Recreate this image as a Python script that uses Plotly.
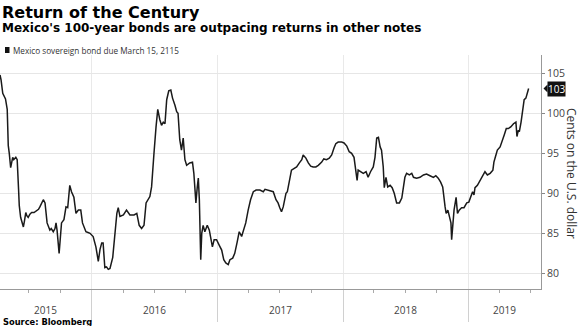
import plotly.graph_objects as go
import pandas as pd

# ---------------- data ----------------
dates = [
    "2015-04-09","2015-04-12","2015-04-17","2015-04-20","2015-04-25","2015-04-30","2015-05-03","2015-05-06",
    "2015-05-10","2015-05-16","2015-05-19","2015-05-25","2015-05-29","2015-06-02","2015-06-04","2015-06-08",
    "2015-06-12","2015-06-16","2015-06-19","2015-06-23","2015-06-26","2015-06-30","2015-07-05","2015-07-10",
    "2015-07-17","2015-07-25","2015-07-30","2015-08-03","2015-08-09","2015-08-13","2015-08-18","2015-08-21",
    "2015-08-24","2015-09-01","2015-09-05","2015-09-11","2015-09-16","2015-09-19","2015-09-22","2015-09-28",
    "2015-10-02","2015-10-05","2015-10-12","2015-10-18","2015-10-23","2015-10-29","2015-11-03","2015-11-10",
    "2015-11-13","2015-11-16","2015-11-23","2015-11-30","2015-12-05","2015-12-11","2015-12-15","2015-12-21",
    "2015-12-27",
    "2016-01-05","2016-01-13","2016-01-20","2016-01-25","2016-01-30","2016-02-03","2016-02-08","2016-02-13",
    "2016-02-18","2016-02-23","2016-03-02","2016-03-06","2016-03-10","2016-03-14","2016-03-18","2016-03-23",
    "2016-04-02","2016-04-11","2016-04-21","2016-05-03","2016-05-11","2016-05-18","2016-05-25","2016-06-01",
    "2016-06-07","2016-06-13","2016-06-18","2016-06-23","2016-06-26","2016-06-30","2016-07-06","2016-07-11",
    "2016-07-17","2016-07-22","2016-07-27","2016-08-01","2016-08-06","2016-08-12","2016-08-18","2016-08-23",
    "2016-08-30","2016-09-04","2016-09-08","2016-09-13","2016-09-18","2016-09-23","2016-09-28","2016-10-03",
    "2016-10-12","2016-10-20","2016-10-24","2016-10-30","2016-11-03","2016-11-06","2016-11-09","2016-11-13",
    "2016-11-16","2016-11-20","2016-11-25","2016-12-02","2016-12-08","2016-12-12","2016-12-17","2016-12-22",
    "2016-12-29",
    "2017-01-06","2017-01-13","2017-01-19","2017-01-25","2017-02-01","2017-02-06","2017-02-14","2017-02-20",
    "2017-02-27","2017-03-05","2017-03-12","2017-03-17","2017-03-24","2017-03-31","2017-04-07","2017-04-15",
    "2017-04-23","2017-05-04","2017-05-14","2017-05-19","2017-05-25","2017-06-02","2017-06-12","2017-06-20",
    "2017-06-26","2017-07-01","2017-07-06","2017-07-11","2017-07-19","2017-07-23","2017-07-28","2017-08-04",
    "2017-08-11","2017-08-19","2017-08-27","2017-09-03","2017-09-07","2017-09-15","2017-09-22","2017-09-29",
    "2017-10-06","2017-10-14","2017-10-21","2017-10-31","2017-11-06","2017-11-14","2017-11-22","2017-11-29",
    "2017-12-06","2017-12-11","2017-12-18","2017-12-28",
    "2018-01-04","2018-01-12","2018-01-19","2018-01-26","2018-02-02","2018-02-08","2018-02-11","2018-02-14",
    "2018-02-24","2018-03-01","2018-03-09","2018-03-15","2018-03-22","2018-03-30","2018-04-04","2018-04-09",
    "2018-04-14","2018-04-19","2018-04-23","2018-04-28","2018-05-01","2018-05-06","2018-05-11","2018-05-18",
    "2018-05-24","2018-05-30","2018-06-06","2018-06-14","2018-06-21","2018-06-25","2018-06-30","2018-07-05",
    "2018-07-13","2018-07-20","2018-07-25","2018-08-03","2018-08-13","2018-08-23","2018-09-01","2018-09-11",
    "2018-09-21","2018-09-28","2018-10-05","2018-10-12","2018-10-18","2018-10-25","2018-10-28","2018-11-02",
    "2018-11-06","2018-11-11","2018-11-13","2018-11-16","2018-11-20","2018-11-26","2018-11-30","2018-12-05",
    "2018-12-12","2018-12-19","2018-12-27",
    "2019-01-02","2019-01-08","2019-01-13","2019-01-17","2019-01-20","2019-01-27","2019-02-04","2019-02-11",
    "2019-02-18","2019-02-25","2019-03-05","2019-03-13","2019-03-16","2019-03-20","2019-03-26","2019-04-03",
    "2019-04-09","2019-04-15","2019-04-21","2019-04-27","2019-05-04","2019-05-12","2019-05-19","2019-05-22",
    "2019-05-26","2019-05-29","2019-06-03","2019-06-08","2019-06-12","2019-06-17","2019-06-21","2019-06-25",
]
prices = [
    104.8,104.2,102.5,102.2,101.8,100.5,96.0,95.0,
    93.2,94.5,94.2,94.5,94.2,90.5,88.5,87.0,
    86.3,85.8,86.5,87.6,87.2,87.0,87.4,87.6,
    87.6,87.9,88.0,88.3,88.8,89.2,88.8,87.5,
    86.3,85.4,85.6,85.2,85.6,86.3,85.4,82.5,
    84.5,86.3,86.7,88.3,88.2,91.0,90.2,89.5,
    88.5,87.5,87.9,87.9,86.3,85.5,85.2,85.1,
    85.0,
    84.6,83.3,81.5,83.0,83.8,83.8,80.7,80.8,
    80.5,80.6,82.0,83.9,85.8,87.5,88.2,87.1,
    87.3,87.9,87.3,87.3,87.5,86.0,85.6,86.0,
    88.8,89.2,89.6,90.8,92.9,95.0,98.3,100.5,
    99.2,98.5,98.9,98.7,101.7,102.8,102.9,101.9,
    101.0,100.2,100.0,96.7,95.4,96.9,94.2,93.5,
    93.8,93.9,92.5,88.8,90.8,91.9,89.2,81.7,
    85.0,86.0,85.2,86.0,85.4,84.6,83.3,84.2,
    84.2,
    83.5,82.9,81.7,81.3,81.1,81.7,81.9,82.5,
    83.9,85.2,84.6,85.2,86.3,87.9,89.2,90.2,
    90.4,90.4,90.2,90.5,90.4,90.3,90.2,89.2,
    88.8,88.2,87.7,88.3,90.0,90.2,91.4,92.9,
    93.1,93.3,93.8,94.2,94.8,94.4,93.8,93.4,
    93.3,93.3,93.5,93.9,94.3,94.2,94.4,94.8,
    95.7,96.2,96.4,96.4,
    96.3,95.9,95.2,95.0,94.5,92.9,91.6,92.9,
    92.7,92.5,92.7,92.0,92.7,93.3,94.5,96.9,
    97.0,95.8,95.4,93.3,90.7,92.0,90.8,91.0,
    90.7,90.0,88.8,88.8,89.4,90.7,92.0,92.5,
    92.3,92.5,92.0,91.9,92.0,92.3,92.4,92.2,
    92.0,92.2,91.9,91.4,90.8,88.3,87.5,87.9,
    87.3,86.3,84.2,86.0,87.9,89.5,87.5,87.9,
    88.2,88.2,88.8,
    88.9,89.5,90.2,89.8,90.7,91.0,91.6,92.0,
    92.7,92.3,92.5,92.9,93.9,94.5,95.4,95.8,
    96.7,97.3,98.1,98.1,98.3,98.7,98.9,97.1,
    97.9,97.7,98.9,100.4,101.7,101.9,102.5,103.1,
]
year_bounds = ["2016-01-01", "2017-01-01", "2018-01-01", "2019-01-01"]
year_labels = ["2015", "2016", "2017", "2018", "2019"]
y_ticks = [80, 85, 90, 95, 100, 105]

title = "Return of the Century"
subtitle = "Mexico's 100-year bonds are outpacing returns in other notes"
legend_text = "Mexico sovereign bond due March 15, 2115"
axis_title = "Cents on the U.S. dollar"
source = "Source: Bloomberg"

# ---------------- layout geometry ----------------
W, H = 580, 326
ML, MR, MT, MB = 0, 39, 55, 37
PW, PH = W - ML - MR, H - MT - MB
x_range = ["2015-04-09", "2019-07-31"]
y_range = [78.04, 107.29]


def py(ypix):
    return (H - MB - ypix) / PH


def px(xpix):
    return (xpix - ML) / PW


fig = go.Figure()
fig.add_trace(go.Scatter(x=dates, y=prices, mode="lines",
                         line=dict(color="#1a1a1a", width=1.5),
                         showlegend=False, hoverinfo="skip"))

# year label positions: middle of the visible part of each year
edges = [pd.Timestamp(x_range[0])] + [pd.Timestamp(b) for b in year_bounds] + [pd.Timestamp(x_range[1])]
annotations = []
for i, lab in enumerate(year_labels):
    mid = edges[i] + (edges[i + 1] - edges[i]) / 2
    annotations.append(dict(x=mid.strftime("%Y-%m-%d %H:%M"), xref="x", y=py(309.5), yref="paper",
                            text=lab, showarrow=False, xanchor="center", yanchor="middle",
                            font=dict(family="Open Sans", size=10, color="#444")))

annotations += [
    dict(x=0, xref="paper", y=py(12.5), yref="paper", text="<b>" + title + "</b>", showarrow=False,
         xanchor="left", yanchor="middle", font=dict(family="DejaVu Sans", size=16, color="#000")),
    dict(x=0, xref="paper", y=py(28.5), yref="paper", text="<b>" + subtitle + "</b>", showarrow=False,
         xanchor="left", yanchor="middle", font=dict(family="DejaVu Sans", size=12, color="#000")),
    dict(x=px(11), xref="paper", y=py(50), yref="paper", text=legend_text, showarrow=False,
         xanchor="left", yanchor="middle", font=dict(family="Open Sans", size=8.2, color="#333")),
    dict(x=px(1), xref="paper", y=py(321.5), yref="paper", text="<b>" + source + "</b>", showarrow=False,
         xanchor="left", yanchor="middle", font=dict(family="DejaVu Sans", size=8.3, color="#000")),
    dict(x=px(572), xref="paper", y=py(173), yref="paper", text=axis_title, showarrow=False,
         textangle=90, xanchor="center", yanchor="middle",
         font=dict(family="Open Sans", size=12, color="#333")),
    dict(x=px(547), xref="paper", y=prices[-1], yref="y", text=f"{round(prices[-1])}", showarrow=False,
         xanchor="left", yanchor="middle", bgcolor="#111", borderpad=0,
         font=dict(family="Open Sans", size=10, color="#fff")),
]

shapes = [
    dict(type="rect", xref="paper", yref="paper", x0=px(5), x1=px(9.5), y0=py(53), y1=py(47),
         fillcolor="#111", line=dict(width=0)),
    dict(type="path", xref="paper", yref="paper",
         path=f"M {px(543.5)} {py(88.6)} L {px(547.5)} {py(84.6)} L {px(547.5)} {py(92.6)} Z",
         fillcolor="#111", line=dict(width=0)),
]

fig.update_layout(
    width=W, height=H, margin=dict(l=ML, r=MR, t=MT, b=MB, pad=0),
    paper_bgcolor="white", plot_bgcolor="white",
    annotations=annotations, shapes=shapes,
    xaxis=dict(type="date", range=x_range, tickvals=year_bounds, ticktext=[""] * len(year_bounds),
               showgrid=True, gridcolor="#e9e9e9", gridwidth=1,
               ticks="outside", ticklen=32, tickcolor="#d0d0d0", tickwidth=1,
               showline=True, linecolor="#999", linewidth=1, zeroline=False,
               minor=dict(dtick="M3", tick0="2015-01-01", ticks="outside", ticklen=3,
                          tickcolor="#aaa", showgrid=False)),
    yaxis=dict(range=y_range, side="right", tickvals=y_ticks,
               showgrid=True, gridcolor="#e6e6e6", gridwidth=1,
               ticks="outside", ticklen=3, tickcolor="#888",
               showline=True, linecolor="#999", linewidth=1, zeroline=False,
               tickfont=dict(family="Open Sans", size=10.5, color="#444")),
)

fig.write_html("out.html")
